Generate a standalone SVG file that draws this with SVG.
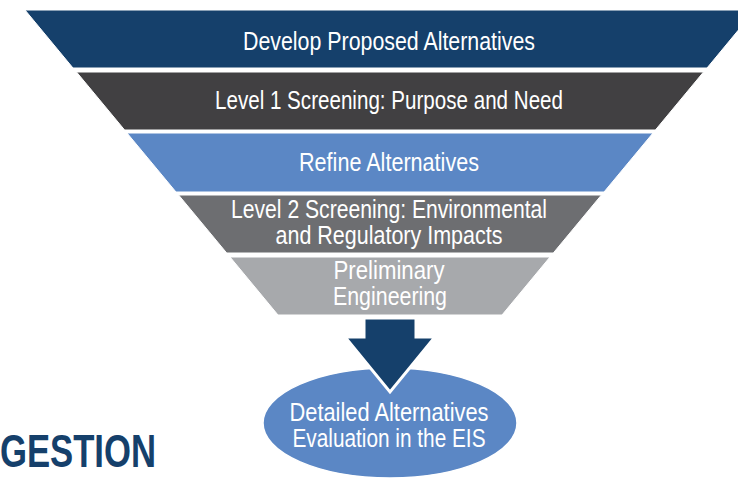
<svg xmlns="http://www.w3.org/2000/svg" width="738" height="479" viewBox="0 0 738 479">
<style>
.lbl{font-family:"Liberation Sans","DejaVu Sans Condensed",Arial,sans-serif;font-size:25px;fill:#ffffff;text-anchor:middle}
.band{stroke:#ffffff;stroke-width:1}
</style>
<rect width="738" height="479" fill="#ffffff"/>
<g id="band1">
<polygon class="band" points="25,10 755,10 707,68 73,68" fill="#15406b"/>
<text class="lbl" x="389" y="50" textLength="292" lengthAdjust="spacingAndGlyphs">Develop Proposed Alternatives</text>
</g>
<g id="band2">
<polygon class="band" points="76.5,72 703.5,72 655.4,130 124.6,130" fill="#414042"/>
<text class="lbl" x="389" y="109" textLength="348" lengthAdjust="spacingAndGlyphs">Level 1 Screening: Purpose and Need</text>
</g>
<g id="band3">
<polygon class="band" points="127,133 653,133 604,192 176,192" fill="#5b87c5"/>
<text class="lbl" x="389" y="171" textLength="180" lengthAdjust="spacingAndGlyphs">Refine Alternatives</text>
</g>
<g id="band4">
<polygon class="band" points="178.6,195 601.4,195 553.3,253 226.7,253" fill="#6d6e71"/>
<text class="lbl" x="389" y="218" textLength="316" lengthAdjust="spacingAndGlyphs">Level 2 Screening: Environmental</text>
<text class="lbl" x="389" y="244" textLength="227" lengthAdjust="spacingAndGlyphs">and Regulatory Impacts</text>
</g>
<g id="band5">
<polygon class="band" points="230,257 550,257 502,315 278,315" fill="#a7a9ac"/>
<text class="lbl" x="389" y="279" textLength="111" lengthAdjust="spacingAndGlyphs">Preliminary</text>
<text class="lbl" x="390" y="305" textLength="114" lengthAdjust="spacingAndGlyphs">Engineering</text>
</g>
<g id="result">
<ellipse cx="390" cy="423" rx="127" ry="55" fill="#5b87c5" stroke="#ffffff" stroke-width="1.5"/>
<text class="lbl" x="389" y="421" textLength="199" lengthAdjust="spacingAndGlyphs">Detailed Alternatives</text>
<text class="lbl" x="389" y="447" textLength="193" lengthAdjust="spacingAndGlyphs">Evaluation in the EIS</text>
</g>
<g id="connectors">
<polygon points="364,318 416,318 416,337 435,337 390,392 345,337 364,337" fill="#15406b" stroke="#ffffff" stroke-width="3" stroke-linejoin="miter"/>
</g>
<g id="title">
<text x="0" y="467" font-family="'Liberation Sans',Arial,sans-serif" font-weight="bold" font-size="46" fill="#15406b" textLength="156" lengthAdjust="spacingAndGlyphs">GESTION</text>
</g>
</svg>
